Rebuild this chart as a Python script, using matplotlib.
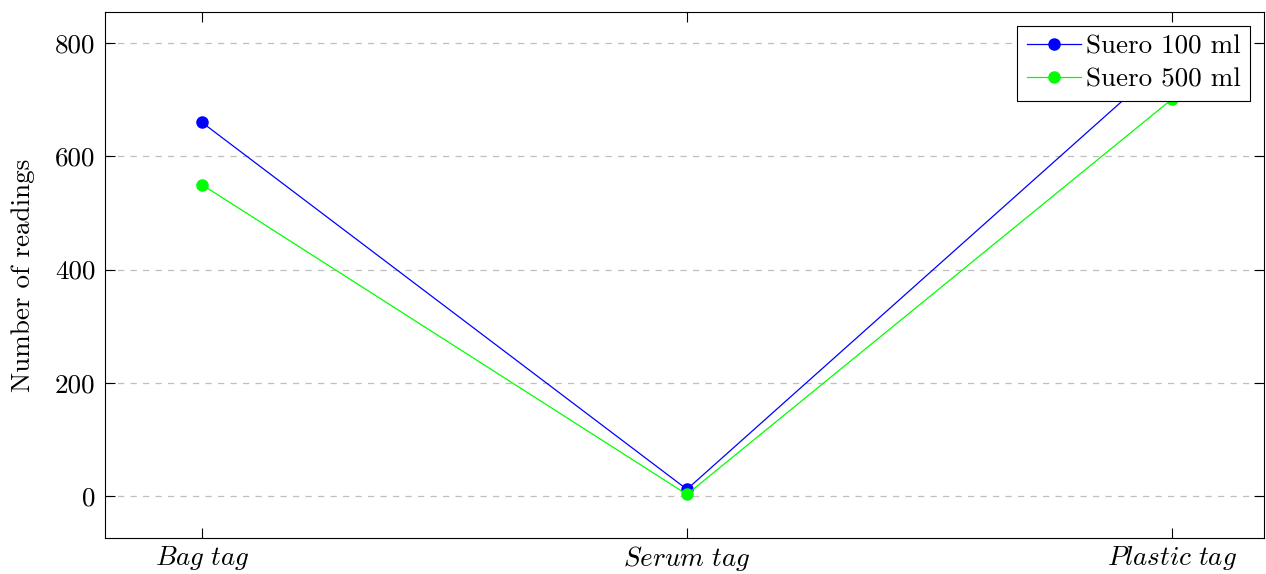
import matplotlib
matplotlib.use("Agg")
import matplotlib.pyplot as plt

plt.rcParams["font.family"] = "serif"
plt.rcParams["font.serif"] = ["cmr10", "DejaVu Serif"]
plt.rcParams["mathtext.fontset"] = "cm"
plt.rcParams["axes.formatter.use_mathtext"] = True

categories = ["Bag tag", "Serum tag", "Plastic tag"]
suero_100 = [660, 12, 776]
suero_500 = [550, 3, 701]
yticks = [0, 200, 400, 600, 800]

FS = 19.5

fig = plt.figure(figsize=(12.66, 5.74), dpi=100)
ax = fig.add_axes([105 / 1266, 36 / 574, (1264 - 105) / 1266, (538 - 12) / 574])

x = list(range(len(categories)))
ax.plot(x, suero_100, color="#0000ff", lw=0.9, marker="o", ms=8,
        label="Suero 100 ml")
ax.plot(x, suero_500, color="#00ff00", lw=0.9, marker="o", ms=8,
        label="Suero 500 ml")

ax.set_xlim(-0.2, 2.19)
ax.set_ylim(-74, 855)
ax.set_xticks(x)
ax.set_xticklabels([r"$\mathit{" + c.replace(" ", r"\ ") + "}$" for c in categories],
                   fontsize=FS)
ax.set_yticks(yticks)
ax.set_yticklabels([str(v) for v in yticks], fontsize=FS)
ax.tick_params(direction="in", length=7, width=0.8, top=True, right=True,
               pad=7)
ax.tick_params(axis="x", pad=4)
ax.yaxis.grid(True, linestyle=(0, (5, 5)), color="#bfbfbf", lw=0.9)
ax.set_axisbelow(True)
for s in ax.spines.values():
    s.set_linewidth(0.8)

ax.set_ylabel("Number of readings", fontsize=FS, labelpad=14)

leg = ax.legend(loc="upper right", fontsize=FS, frameon=True, fancybox=False,
                edgecolor="black", framealpha=1, borderpad=0.35,
                handlelength=2.0, handletextpad=0.2, labelspacing=0.3,
                borderaxespad=0.5)
leg.get_frame().set_linewidth(0.8)

fig.savefig("out.png", dpi=100)
